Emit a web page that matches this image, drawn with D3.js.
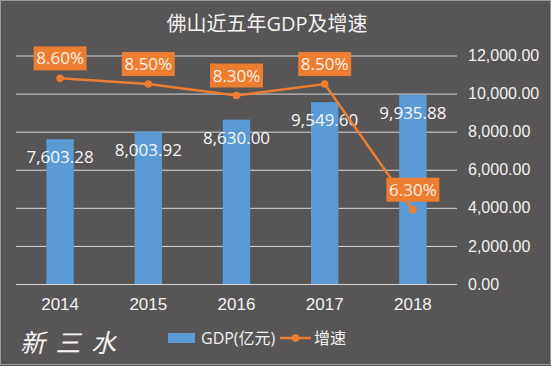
<!DOCTYPE html>
<html>
<head>
<meta charset="utf-8">
<script src="https://cdn.jsdelivr.net/npm/d3@7"></script>
<style>
  body { margin: 0; background: #575555; }
  svg { display: block; font-family: "Open Sans", "Noto Sans CJK SC", sans-serif; }
</style>
</head>
<body>
<svg id="chart" width="551" height="366"></svg>
<script>
// --- Data ------------------------------------------
const years = ["2014", "2015", "2016", "2017", "2018"];
const gdp = [7603.28, 8003.92, 8630.00, 9549.60, 9935.88];   // 亿元
const growth = [0.086, 0.085, 0.083, 0.085, 0.063];
const gdpTicks = [0, 2000, 4000, 6000, 8000, 10000, 12000];

const W = 551, H = 366;
const margin = {top: 55.5, right: 94, bottom: 82, left: 16};

const svg = d3.select("#chart");

// background + thin frame
svg.append("rect")
  .attr("width", W).attr("height", H)
  .attr("fill", "#575555");
svg.append("rect")
  .attr("x", 0.5).attr("y", 0.5)
  .attr("width", W - 1).attr("height", H - 2)
  .attr("fill", "none")
  .attr("stroke", "#9c9a9a");

const x = d3.scaleBand()
  .domain(years)
  .range([margin.left, W - margin.right])
  .paddingInner(0.69)
  .paddingOuter(0.345);

const y = d3.scaleLinear()
  .domain([0, 12000])
  .range([H - margin.bottom, margin.top]);

// hidden secondary axis for the growth line
const y2 = d3.scaleLinear()
  .domain([0.05, 0.09])
  .range([H - margin.bottom, margin.top]);

// title
svg.append("text")
  .attr("x", 267).attr("y", 31)
  .attr("text-anchor", "middle")
  .attr("fill", "#f2f2f2")
  .style("font-size", "20px")
  .text("佛山近五年GDP及增速");

// --- Right axis + gridlines -------------------------
const plotW = W - margin.right - margin.left;
const yAxis = svg.append("g")
  .attr("transform", `translate(${W - margin.right},0)`)
  .call(d3.axisRight(y)
    .tickValues(gdpTicks)
    .tickSize(-plotW)
    .tickPadding(11)
    .tickFormat(d3.format(",.2f")));
yAxis.select(".domain").remove();
yAxis.selectAll(".tick line").attr("stroke", "#d9d9d9").attr("stroke-width", 1);
yAxis.selectAll(".tick text")
  .attr("fill", "#f2f2f2")
  .style("font-size", "16px");

// --- X axis labels ---------------------------------
const xAxis = svg.append("g")
  .attr("transform", `translate(0,${H - margin.bottom})`)
  .call(d3.axisBottom(x).tickSize(0).tickPadding(14));
xAxis.select(".domain").remove();
xAxis.selectAll(".tick text")
  .attr("fill", "#f2f2f2")
  .style("font-size", "17px");

// --- Bars ------------------------------------------
const rows = years.map((yr, i) => ({year: yr, gdp: gdp[i], growth: growth[i]}));

svg.append("g").selectAll("rect")
  .data(rows)
  .join("rect")
  .attr("x", d => x(d.year))
  .attr("y", d => y(d.gdp))
  .attr("width", x.bandwidth())
  .attr("height", d => y(0) - y(d.gdp))
  .attr("fill", "#5b9bd5");

svg.append("g").selectAll("text")
  .data(rows)
  .join("text")
  .attr("x", d => x(d.year) + x.bandwidth() / 2)
  .attr("y", d => y(d.gdp) + 18)
  .attr("dy", "0.35em")
  .attr("text-anchor", "middle")
  .attr("fill", "#f7f7f7")
  .style("font-size", "17px")
  .text(d => d3.format(",.2f")(d.gdp));

// --- Growth line -----------------------------------
const cx = d => x(d.year) + x.bandwidth() / 2;

svg.append("path")
  .datum(rows)
  .attr("fill", "none")
  .attr("stroke", "#ed7d31")
  .attr("stroke-width", 2.5)
  .attr("d", d3.line().x(cx).y(d => y2(d.growth)));

svg.append("g").selectAll("circle")
  .data(rows)
  .join("circle")
  .attr("cx", cx)
  .attr("cy", d => y2(d.growth))
  .attr("r", 3.8)
  .attr("fill", "#ed7d31");

// orange label boxes above each point
const labels = svg.append("g").selectAll("g")
  .data(rows)
  .join("g")
  .attr("transform", d => `translate(${cx(d)},${y2(d.growth) - 20})`);

labels.append("rect")
  .attr("x", -26.5).attr("y", -12)
  .attr("width", 53).attr("height", 24)
  .attr("fill", "#ed7d31");

labels.append("text")
  .attr("dy", "0.36em")
  .attr("text-anchor", "middle")
  .attr("fill", "#fbf0e6")
  .style("font-size", "17px")
  .text(d => d3.format(".2%")(d.growth));

// --- Legend ----------------------------------------
const legend = svg.append("g");
legend.append("rect")
  .attr("x", 168).attr("y", 333)
  .attr("width", 27).attr("height", 10)
  .attr("fill", "#5b9bd5");
legend.append("text")
  .attr("x", 201).attr("y", 338)
  .attr("dy", "0.35em")
  .attr("fill", "#f2f2f2")
  .style("font-size", "16px")
  .text("GDP(亿元)");
legend.append("line")
  .attr("x1", 280).attr("x2", 311)
  .attr("y1", 338).attr("y2", 338)
  .attr("stroke", "#ed7d31")
  .attr("stroke-width", 2.5);
legend.append("circle")
  .attr("cx", 295.5).attr("cy", 338)
  .attr("r", 3.8)
  .attr("fill", "#ed7d31");
legend.append("text")
  .attr("x", 314).attr("y", 338)
  .attr("dy", "0.35em")
  .attr("fill", "#f2f2f2")
  .style("font-size", "16px")
  .text("增速");

// watermark
svg.append("text")
  .attr("x", 20).attr("y", 352)
  .attr("fill", "#f5f5f5")
  .style("font-size", "25px")
  .style("font-style", "italic")
  .style("letter-spacing", "2px")
  .text("新 三 水");
</script>
</body>
</html>
